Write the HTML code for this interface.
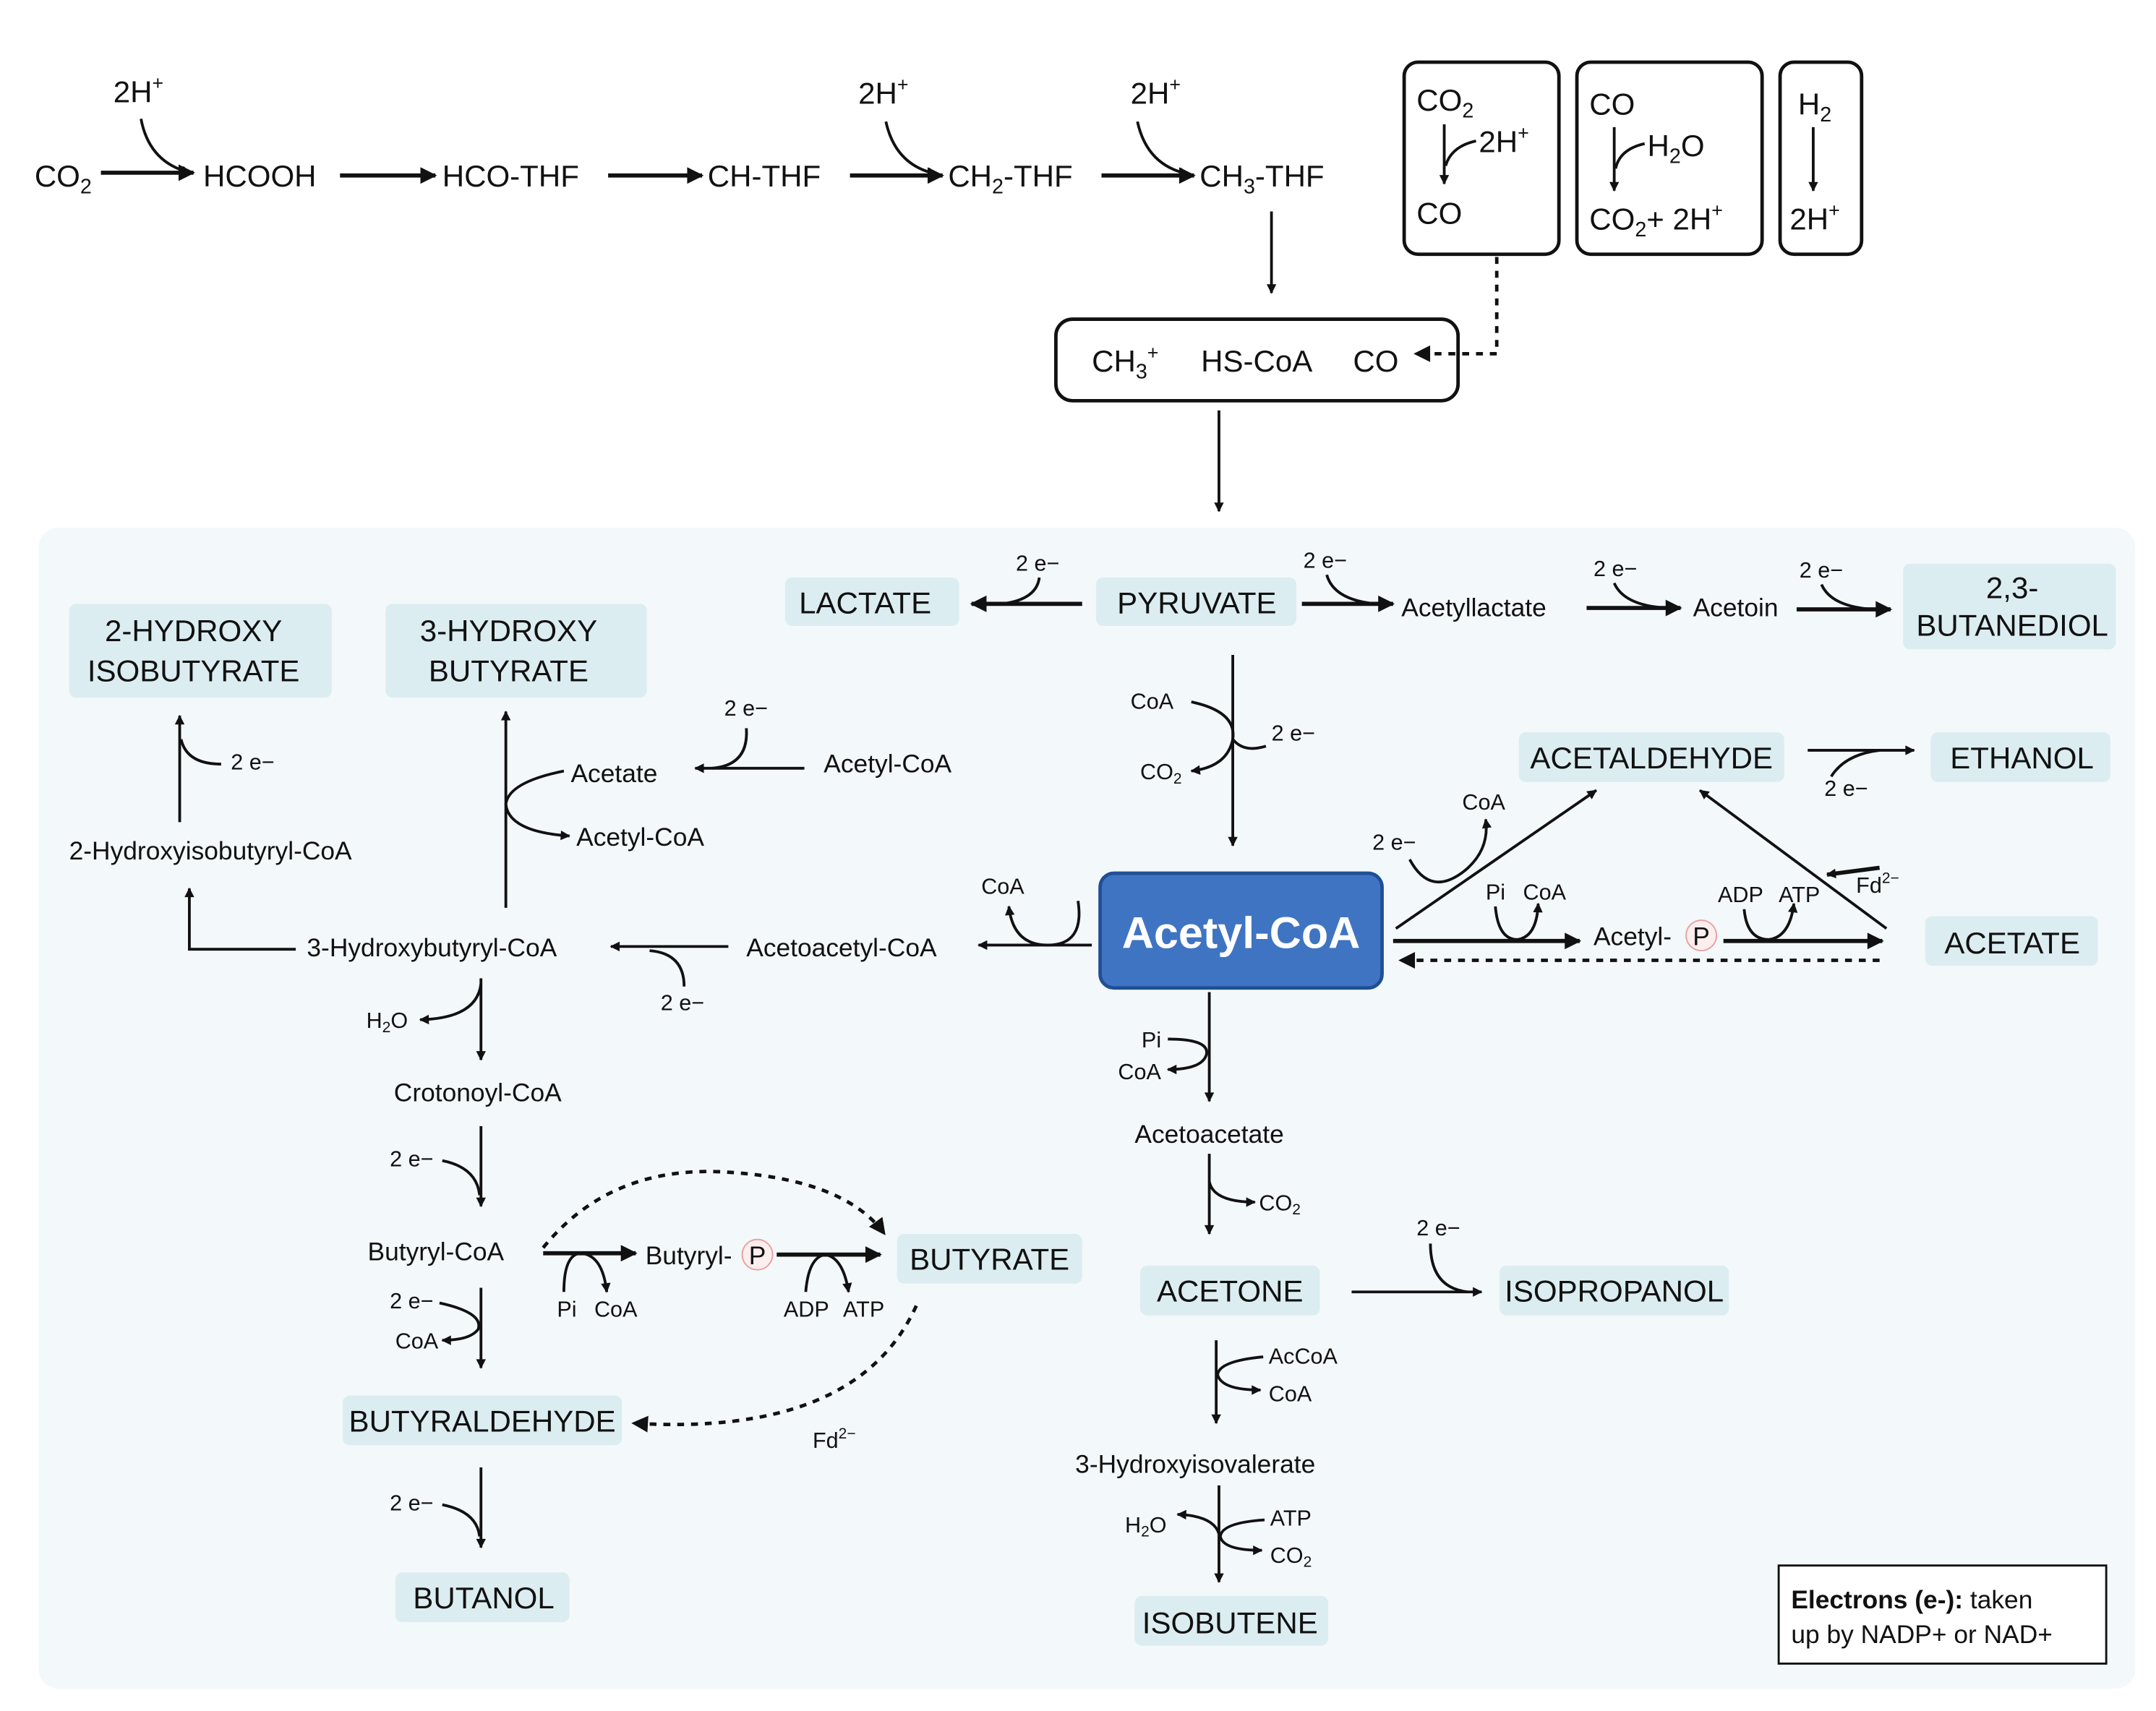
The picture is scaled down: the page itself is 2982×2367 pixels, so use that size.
<!DOCTYPE html>
<html><head><meta charset="utf-8"><style>
html,body{margin:0;padding:0;background:#fff;}
svg{display:block;}
text{font-family:"Liberation Sans",Arial,sans-serif;fill:#111;}
.b{font-size:22px;}
.m{font-size:18.5px;}
.s{font-size:16px;}
.c{text-anchor:middle;}
.l{stroke:#111;stroke-width:2;fill:none;}
.t{stroke:#111;stroke-width:3;fill:none;}
.d{stroke:#111;stroke-width:2.5;fill:none;stroke-dasharray:5 5;}
.hb{fill:#dcedf1;}
</style></head><body>
<svg width="2982" height="2367" viewBox="0 0 1560 1238.3" xmlns="http://www.w3.org/2000/svg">
<defs>
<marker id="a" viewBox="0 0 10 10" refX="9" refY="5" markerWidth="8" markerHeight="7" markerUnits="userSpaceOnUse" orient="auto"><path d="M0,0 L10,5 L0,10 z" fill="#111"/></marker>
<marker id="A" viewBox="0 0 10 10" refX="9" refY="5" markerWidth="14" markerHeight="12" markerUnits="userSpaceOnUse" orient="auto"><path d="M0,0 L10,5 L0,10 z" fill="#111"/></marker>
</defs>

<!-- top pathway -->
<text class="b" x="25" y="135">CO<tspan font-size="15" dy="5">2</tspan></text>
<line class="t" x1="73" y1="125" x2="140" y2="125" marker-end="url(#A)"/>
<text class="b" x="82" y="74">2H<tspan font-size="14" dy="-9">+</tspan></text>
<path class="l" d="M102,86 Q108,118 138,125" marker-end="url(#a)"/>
<text class="b" x="147" y="135">HCOOH</text>
<line class="t" x1="246" y1="127" x2="315" y2="127" marker-end="url(#A)"/>
<text class="b" x="320" y="135">HCO-THF</text>
<line class="t" x1="440" y1="127" x2="508" y2="127" marker-end="url(#A)"/>
<text class="b" x="512" y="135">CH-THF</text>
<line class="t" x1="615" y1="127" x2="682" y2="127" marker-end="url(#A)"/>
<text class="b" x="621" y="75">2H<tspan font-size="14" dy="-9">+</tspan></text>
<path class="l" d="M641,88 Q648,120 678,126" marker-end="url(#a)"/>
<text class="b" x="686" y="135">CH<tspan font-size="15" dy="5">2</tspan><tspan dy="-5">-THF</tspan></text>
<line class="t" x1="797" y1="127" x2="864" y2="127" marker-end="url(#A)"/>
<text class="b" x="818" y="75">2H<tspan font-size="14" dy="-9">+</tspan></text>
<path class="l" d="M823,88 Q830,120 860,126" marker-end="url(#a)"/>
<text class="b" x="868" y="135">CH<tspan font-size="15" dy="5">3</tspan><tspan dy="-5">-THF</tspan></text>
<line class="l" x1="920" y1="153" x2="920" y2="212" marker-end="url(#a)"/>

<rect x="1016" y="45" width="112" height="139" rx="10" fill="none" stroke="#111" stroke-width="2.5"/>
<text class="b" x="1025" y="80">CO<tspan font-size="15" dy="5">2</tspan></text>
<line class="l" x1="1045" y1="90" x2="1045" y2="133" marker-end="url(#a)"/>
<path class="l" d="M1068,102 Q1050,106 1046,120"/>
<text class="b" x="1070" y="110">2H<tspan font-size="14" dy="-9">+</tspan></text>
<text class="b" x="1025" y="162">CO</text>
<rect x="1141" y="45" width="134" height="139" rx="10" fill="none" stroke="#111" stroke-width="2.5"/>
<text class="b" x="1150" y="83">CO</text>
<line class="l" x1="1168" y1="92" x2="1168" y2="138" marker-end="url(#a)"/>
<path class="l" d="M1190,104 Q1172,108 1169,122"/>
<text class="b" x="1192" y="113">H<tspan font-size="15" dy="5">2</tspan><tspan dy="-5">O</tspan></text>
<text class="b" x="1150" y="166">CO<tspan font-size="15" dy="5">2</tspan><tspan dy="-5">+ 2H</tspan><tspan font-size="14" dy="-9">+</tspan></text>
<rect x="1288" y="45" width="59" height="139" rx="10" fill="none" stroke="#111" stroke-width="2.5"/>
<text class="b" x="1301" y="83">H<tspan font-size="15" dy="5">2</tspan></text>
<line class="l" x1="1312" y1="92" x2="1312" y2="138" marker-end="url(#a)"/>
<text class="b" x="1295" y="166">2H<tspan font-size="14" dy="-9">+</tspan></text>

<rect x="764" y="231" width="291" height="59" rx="12" fill="#fff" stroke="#111" stroke-width="2.5"/>
<text class="b" x="790" y="269">CH<tspan font-size="15" dy="5">3</tspan><tspan font-size="14" dy="-14">+</tspan></text>
<text class="b" x="869" y="269">HS-CoA</text>
<text class="b" x="979" y="269">CO</text>
<path class="d" d="M1083,186 L1083,256 L1024,256" marker-end="url(#A)"/>
<line class="l" x1="882" y1="297" x2="882" y2="370" marker-end="url(#a)"/>

<!-- panel -->
<rect x="28" y="382" width="1517" height="840" rx="14" fill="#f3f8fb"/>

<!-- highlight boxes -->
<rect class="hb" x="568" y="418" width="126" height="35" rx="5"/><text class="b c" x="626" y="444">LACTATE</text>
<rect class="hb" x="793" y="418" width="145" height="35" rx="5"/><text class="b c" x="866" y="444">PYRUVATE</text>
<rect class="hb" x="1377" y="408" width="154" height="62" rx="5"/><text class="b c" x="1456" y="433">2,3-</text><text class="b c" x="1456" y="460">BUTANEDIOL</text>
<rect class="hb" x="50" y="437" width="190" height="68" rx="5"/><text class="b c" x="140" y="464">2-HYDROXY</text><text class="b c" x="140" y="493">ISOBUTYRATE</text>
<rect class="hb" x="279" y="437" width="189" height="68" rx="5"/><text class="b c" x="368" y="464">3-HYDROXY</text><text class="b c" x="368" y="493">BUTYRATE</text>
<rect class="hb" x="1099" y="530" width="192" height="36" rx="5"/><text class="b c" x="1195" y="556">ACETALDEHYDE</text>
<rect class="hb" x="1397" y="530" width="130" height="36" rx="5"/><text class="b c" x="1463" y="556">ETHANOL</text>
<rect class="hb" x="1393" y="663" width="125" height="36" rx="5"/><text class="b c" x="1456" y="690">ACETATE</text>
<rect class="hb" x="649" y="893" width="134" height="36" rx="5"/><text class="b c" x="716" y="919">BUTYRATE</text>
<rect class="hb" x="825" y="916" width="130" height="36" rx="5"/><text class="b c" x="890" y="942">ACETONE</text>
<rect class="hb" x="1085" y="916" width="166" height="36" rx="5"/><text class="b c" x="1168" y="942">ISOPROPANOL</text>
<rect class="hb" x="248" y="1010" width="202" height="36" rx="5"/><text class="b c" x="349" y="1036">BUTYRALDEHYDE</text>
<rect class="hb" x="286" y="1138" width="126" height="36" rx="5"/><text class="b c" x="350" y="1164">BUTANOL</text>
<rect class="hb" x="821" y="1155" width="140" height="36" rx="5"/><text class="b c" x="890" y="1182">ISOBUTENE</text>

<rect x="796" y="632" width="204" height="83" rx="10" fill="#3f74c2" stroke="#1f4f95" stroke-width="2.5"/>
<text class="c" x="898" y="686" style="font-size:32px;font-weight:bold;fill:#fff">Acetyl-CoA</text>

<!-- plain labels -->
<text class="m" x="1014" y="446">Acetyllactate</text>
<text class="m" x="1225" y="446">Acetoin</text>
<text class="m" x="413" y="566">Acetate</text>
<text class="m" x="596" y="559">Acetyl-CoA</text>
<text class="m" x="417" y="612">Acetyl-CoA</text>
<text class="m" x="50" y="622">2-Hydroxyisobutyryl-CoA</text>
<text class="m" x="222" y="692">3-Hydroxybutyryl-CoA</text>
<text class="m" x="540" y="692">Acetoacetyl-CoA</text>
<text class="m" x="285" y="797">Crotonoyl-CoA</text>
<text class="m" x="266" y="912">Butyryl-CoA</text>
<text class="m" x="467" y="915">Butyryl-</text>
<circle cx="548" cy="908" r="11" fill="#fdeeee" stroke="#e9a0a0" stroke-width="1"/><text class="m c" x="548" y="915">P</text>
<text class="m" x="1153" y="684">Acetyl-</text>
<circle cx="1231" cy="677" r="11" fill="#fdeeee" stroke="#e9a0a0" stroke-width="1"/><text class="m c" x="1231" y="684">P</text>
<text class="m" x="821" y="827">Acetoacetate</text>
<text class="m" x="778" y="1066">3-Hydroxyisovalerate</text>

<!-- pyruvate row -->
<line class="t" x1="783" y1="437" x2="703" y2="437" marker-end="url(#A)"/>
<text class="s" x="735" y="413">2 e−</text><path class="l" d="M752,418 Q750,434 725,437"/>
<line class="t" x1="942" y1="437" x2="1008" y2="437" marker-end="url(#A)"/>
<text class="s" x="943" y="411">2 e−</text><path class="l" d="M960,416 Q965,434 995,437"/>
<line class="t" x1="1148" y1="440" x2="1216" y2="440" marker-end="url(#A)"/>
<text class="s" x="1153" y="417">2 e−</text><path class="l" d="M1168,422 Q1175,438 1205,440"/>
<line class="t" x1="1300" y1="441" x2="1368" y2="441" marker-end="url(#A)"/>
<text class="s" x="1302" y="418">2 e−</text><path class="l" d="M1318,423 Q1325,439 1355,441"/>

<line class="l" x1="892" y1="474" x2="892" y2="612" marker-end="url(#a)"/>
<text class="s" x="818" y="513">CoA</text><text class="s" x="825" y="564">CO<tspan font-size="11" dy="3">2</tspan></text>
<path class="l" d="M862,508 Q895,515 892,535 Q888,555 862,558" marker-end="url(#a)"/>
<text class="s" x="920" y="536">2 e−</text><path class="l" d="M892,535 Q900,545 916,540"/>

<!-- left branch -->
<line class="l" x1="790" y1="684" x2="708" y2="684" marker-end="url(#a)"/>
<text class="s" x="710" y="647">CoA</text>
<path class="l" d="M780,652 Q785,684 758,684 Q733,684 730,656" marker-end="url(#a)"/>
<line class="l" x1="527" y1="685" x2="442" y2="685" marker-end="url(#a)"/>
<text class="s" x="478" y="731">2 e−</text><path class="l" d="M495,714 Q495,690 470,688"/>
<path class="l" d="M214,687 L137,687 L137,643" marker-end="url(#a)"/>
<line class="l" x1="130" y1="595" x2="130" y2="518" marker-end="url(#a)"/>
<text class="s" x="167" y="557">2 e−</text><path class="l" d="M160,553 Q135,553 131,535"/>
<line class="l" x1="366" y1="657" x2="366" y2="515" marker-end="url(#a)"/>
<path class="l" d="M408,558 Q368,566 366,582 Q368,602 412,605" marker-end="url(#a)"/>
<line class="l" x1="582" y1="556" x2="503" y2="556" marker-end="url(#a)"/>
<text class="s" x="524" y="518">2 e−</text><path class="l" d="M540,527 Q542,554 515,556"/>
<line class="l" x1="348" y1="708" x2="348" y2="767" marker-end="url(#a)"/>
<text class="s" x="265" y="744">H<tspan font-size="11" dy="3">2</tspan><tspan dy="-3">O</tspan></text>
<path class="l" d="M348,712 Q345,737 304,738" marker-end="url(#a)"/>
<line class="l" x1="348" y1="815" x2="348" y2="873" marker-end="url(#a)"/>
<text class="s" x="282" y="844">2 e−</text><path class="l" d="M320,840 Q345,845 347,865"/>

<line class="t" x1="393" y1="907" x2="460" y2="907" marker-end="url(#A)"/>
<text class="s" x="403" y="953">Pi</text><text class="s" x="430" y="953">CoA</text>
<path class="l" d="M408,935 Q408,908 420,907 Q436,908 439,935" marker-end="url(#a)"/>
<line class="t" x1="562" y1="908" x2="637" y2="908" marker-end="url(#A)"/>
<text class="s" x="567" y="953">ADP</text><text class="s" x="610" y="953">ATP</text>
<path class="l" d="M583,935 Q585,910 597,908 Q610,910 614,935" marker-end="url(#a)"/>
<path class="d" d="M393,903 Q440,845 520,848 Q610,852 640,893" marker-end="url(#A)"/>
<line class="l" x1="348" y1="932" x2="348" y2="990" marker-end="url(#a)"/>
<text class="s" x="282" y="947">2 e−</text><text class="s" x="286" y="976">CoA</text>
<path class="l" d="M318,943 Q350,950 346,962 Q340,970 320,970" marker-end="url(#a)"/>
<path class="d" d="M663,945 Q620,1040 458,1030" marker-end="url(#A)"/>
<text class="s" x="588" y="1048">Fd<tspan font-size="11" dy="-7">2−</tspan></text>
<line class="l" x1="348" y1="1062" x2="348" y2="1120" marker-end="url(#a)"/>
<text class="s" x="282" y="1093">2 e−</text><path class="l" d="M320,1089 Q345,1094 347,1112"/>

<!-- center down -->
<line class="l" x1="875" y1="718" x2="875" y2="797" marker-end="url(#a)"/>
<text class="s" x="826" y="758">Pi</text><text class="s" x="809" y="781">CoA</text>
<path class="l" d="M845,752 Q875,752 873,763 Q870,774 845,774" marker-end="url(#a)"/>
<line class="l" x1="875" y1="835" x2="875" y2="893" marker-end="url(#a)"/>
<path class="l" d="M875,855 Q878,870 908,870" marker-end="url(#a)"/>
<text class="s" x="911" y="876">CO<tspan font-size="11" dy="3">2</tspan></text>
<line class="l" x1="978" y1="935" x2="1072" y2="935" marker-end="url(#a)"/>
<text class="s" x="1025" y="894">2 e−</text><path class="l" d="M1035,900 Q1035,932 1062,935"/>
<line class="l" x1="880" y1="970" x2="880" y2="1030" marker-end="url(#a)"/>
<text class="s" x="918" y="987">AcCoA</text><text class="s" x="918" y="1014">CoA</text>
<path class="l" d="M914,982 Q882,985 881,995 Q884,1006 912,1006" marker-end="url(#a)"/>
<line class="l" x1="882" y1="1075" x2="882" y2="1145" marker-end="url(#a)"/>
<text class="s" x="919" y="1104">ATP</text><text class="s" x="919" y="1131">CO<tspan font-size="11" dy="3">2</tspan></text>
<path class="l" d="M915,1100 Q884,1102 883,1112 Q885,1122 913,1122" marker-end="url(#a)"/>
<text class="s" x="814" y="1109">H<tspan font-size="11" dy="3">2</tspan><tspan dy="-3">O</tspan></text>
<path class="l" d="M882,1110 Q878,1097 852,1096" marker-end="url(#a)"/>

<!-- right branch -->
<line class="t" x1="1008" y1="681" x2="1143" y2="681" marker-end="url(#A)"/>
<text class="s" x="1075" y="651">Pi</text><text class="s" x="1102" y="651">CoA</text>
<path class="l" d="M1082,656 Q1084,680 1098,680 Q1112,678 1113,654" marker-end="url(#a)"/>
<line class="t" x1="1247" y1="681" x2="1362" y2="681" marker-end="url(#A)"/>
<text class="s" x="1243" y="653">ADP</text><text class="s" x="1287" y="653">ATP</text>
<path class="l" d="M1262,658 Q1264,680 1280,680 Q1295,678 1298,654" marker-end="url(#a)"/>
<line class="d" x1="1360" y1="695" x2="1013" y2="695" marker-end="url(#A)"/>
<line class="l" x1="1010" y1="672" x2="1155" y2="572" marker-end="url(#a)"/>
<text class="s" x="1058" y="586">CoA</text><text class="s" x="993" y="615">2 e−</text>
<path class="l" d="M1020,622 Q1035,650 1060,630 Q1078,615 1075,593" marker-end="url(#a)"/>
<line class="l" x1="1365" y1="672" x2="1230" y2="572" marker-end="url(#a)"/>
<line class="t" x1="1360" y1="628" x2="1322" y2="633" marker-end="url(#a)"/>
<text class="s" x="1343" y="646">Fd<tspan font-size="11" dy="-7">2−</tspan></text>
<line class="l" x1="1308" y1="543" x2="1385" y2="543" marker-end="url(#a)"/>
<text class="s" x="1320" y="576">2 e−</text><path class="l" d="M1325,562 Q1335,546 1360,543"/>

<!-- legend -->
<rect x="1287" y="1133" width="237" height="71" fill="#fff" stroke="#111" stroke-width="1.5"/>
<text class="m" x="1296" y="1164"><tspan font-weight="bold">Electrons (e-):</tspan> taken</text>
<text class="m" x="1296" y="1189">up by NADP+ or NAD+</text>
</svg>
</body></html>
